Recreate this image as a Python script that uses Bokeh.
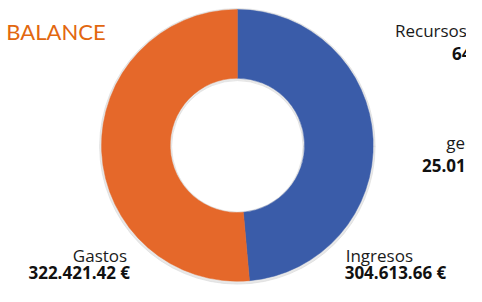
import numpy as np
from bokeh.plotting import figure
from bokeh.models import Range1d, ColumnDataSource
from bokeh.core.properties import value
from bokeh.embed import file_html
from bokeh.resources import INLINE

# Data
categories = ["Ingresos", "Gastos"]
amounts = [304613.66, 322421.42]
amount_labels = ["304.613.66 €", "322.421.42 €"]
colors = ["#3a5ca9", "#e5682a"]
side_names = ["Recursos", "gen"]
side_values = ["64", "25.01"]
title_text = "BALANCE"

W, H = 466, 286
RW, RH = 482, 302  # reference layout space
p = figure(width=W, height=H, output_backend="svg", toolbar_location=None,
           x_range=Range1d(0, RW), y_range=Range1d(0, RH), min_border=0)
p.axis.visible = False
p.grid.visible = False
p.outline_line_color = None
p.background_fill_color = "white"

cx, cy = 245, RH - 153
r_out, r_in = 140.5, 69.5

total = sum(amounts)
fracs = np.array(amounts) / total
start = np.pi / 2
ends = start - np.cumsum(fracs) * 2 * np.pi
starts = np.concatenate([[start], ends[:-1]])

# soft shadow ring
p.annular_wedge(x=cx, y=cy - 1, inner_radius=r_in - 1.5, outer_radius=r_out + 2,
                start_angle=0, end_angle=2 * np.pi, color="#d9d9d9", alpha=0.6)

src = ColumnDataSource(dict(start=ends, end=starts, color=colors, cat=categories))
p.annular_wedge(x=cx, y=cy, inner_radius=r_in, outer_radius=r_out,
                start_angle="start", end_angle="end", fill_color="color",
                line_color="color", line_width=0.5, source=src)

font = value("Open Sans")
fs = "17px"

# title
p.text(x=[6], y=[RH - 33], text=[title_text], text_font=value("Lato"),
       text_font_size="22px", text_color="#e2670f", text_baseline="alphabetic")

# Gastos (right aligned)
p.text(x=[131], y=[RH - 269], text=[categories[1]], text_font=font,
       text_font_size=fs, text_color="#1a1a1a", text_align="right",
       text_baseline="alphabetic")
p.text(x=[134], y=[RH - 287], text=[amount_labels[1]], text_font=font,
       text_font_size=fs, text_font_style="bold", text_color="#111111",
       text_align="right", text_baseline="alphabetic")

# Ingresos (left aligned)
p.text(x=[357], y=[RH - 269], text=[categories[0]], text_font=font,
       text_font_size=fs, text_color="#1a1a1a", text_baseline="alphabetic")
p.text(x=[356], y=[RH - 287], text=[amount_labels[0]], text_font=font,
       text_font_size=fs, text_font_style="bold", text_color="#111111",
       text_baseline="alphabetic")

# side labels (cut by the right edge, as in the reference)
p.text(x=[408], y=[RH - 32], text=[side_names[0]], text_font=font,
       text_font_size=fs, text_color="#1a1a1a", text_baseline="alphabetic")
p.text(x=[467], y=[RH - 56], text=[side_values[0]], text_font=font,
       text_font_size=fs, text_font_style="bold", text_color="#111111",
       text_baseline="alphabetic")
p.text(x=[461], y=[RH - 150], text=[side_names[1]], text_font=font,
       text_font_size=fs, text_color="#1a1a1a", text_baseline="alphabetic")
p.text(x=[436], y=[RH - 174], text=[side_values[1]], text_font=font,
       text_font_size=fs, text_font_style="bold", text_color="#111111",
       text_baseline="alphabetic")

open("out.html", "w").write(file_html(p, INLINE))
